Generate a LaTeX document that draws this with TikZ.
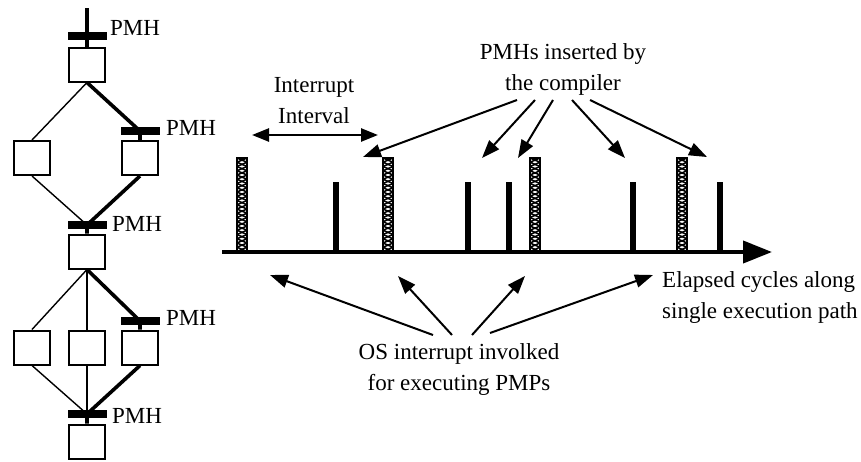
\documentclass[tikz,border=0pt]{standalone}
\usepackage{fontspec}
\setmainfont{Liberation Serif}
\usetikzlibrary{arrows.meta}
\begin{document}
\begin{tikzpicture}[x=1pt,y=-1pt,
  font=\fontsize{23}{31}\selectfont,
  box/.style={draw,line width=2pt,minimum width=36pt,minimum height=34pt,inner sep=0pt,fill=white},
  pmhbar/.style={fill=black,minimum width=39pt,minimum height=8pt,inner sep=0pt},
  lbl/.style={anchor=west,inner sep=0pt},
  txt/.style={align=center,inner sep=0pt},
  ethin/.style={line width=1.4pt},
  ethick/.style={line width=3.6pt},
  callout/.style={line width=2pt,-{Triangle[length=18pt,width=13pt]}},
  tickbar/.style={line width=5.5pt},
  hatchline/.style={line width=1.5pt}]
\useasboundingbox (0,0) rectangle (861,461);

% ---------------- left control-flow graph ----------------
\coordinate (top) at (87,8);
\node[box] (b0) at (87,64.5) {};
\node[box] (b1l) at (32,158) {};
\node[box] (b1r) at (140,158) {};
\node[box] (b2) at (87,251.5) {};
\node[box] (b3l) at (32,347.5) {};
\node[box] (b3m) at (87,347.5) {};
\node[box] (b3r) at (140,347.5) {};
\node[box] (b4) at (87,441.5) {};

\node[pmhbar] (bar0) at (87,36) {};
\node[pmhbar] (bar1) at (140,131) {};
\node[pmhbar] (bar2) at (87,225) {};
\node[pmhbar] (bar3) at (140,321) {};
\node[pmhbar] (bar4) at (87,414) {};

\draw[ethick] (top) -- (b0.north);
\draw[ethin] (b0.south) -- (b1l.north);
\draw[ethick] (b0.south) -- (bar1.center) -- (b1r.north);
\draw[ethin] (b1l.south) -- (bar2.center);
\draw[ethick] (b1r.south) -- (bar2.center) -- (b2.north);
\draw[ethin] (b2.south) -- (b3l.north);
\draw[ethin] (b2.south) -- (b3m.north);
\draw[ethick] (b2.south) -- (bar3.center) -- (b3r.north);
\draw[ethin] (b3l.south) -- (bar4.center);
\draw[ethin] (b3m.south) -- (bar4.center);
\draw[ethick] (b3r.south) -- (bar4.center) -- (b4.north);

\node[lbl] (l0) at (110,28) {PMH};
\node[lbl] (l1) at (166,128) {PMH};
\node[lbl] (l2) at (112,224) {PMH};
\node[lbl] (l3) at (166,318) {PMH};
\node[lbl] (l4) at (112,416) {PMH};

% ---------------- timeline ----------------
\coordinate (ax0) at (222,252);
\coordinate (ax1) at (772,252);
\draw[line width=4pt,-{Triangle[length=29pt,width=22pt]}] (ax0) -- (ax1);

\foreach \c in {336,468,509,633,720}{
  \draw[tickbar] (\c,182) -- (\c,252);
}

\foreach \c in {242,388,535,682}{
  \begin{scope}
    \clip (\c-5,158) rectangle (\c+5,252);
    \foreach \k in {0,...,11}{
      \draw[hatchline] (\c-5,158+8.5*\k) -- (\c+5,162.25+8.5*\k) -- (\c-5,166.5+8.5*\k);
      \draw[hatchline] (\c+5,158+8.5*\k) -- (\c-5,162.25+8.5*\k) -- (\c+5,166.5+8.5*\k);
    }
  \end{scope}
  \draw[line width=2pt] (\c-5,158) rectangle (\c+5,252);
}

% interrupt interval
\node[txt] (ii) at (314,101) {Interrupt\\Interval};
\coordinate (iiL) at (252,135);
\coordinate (iiR) at (378,135);
\draw[line width=2.5pt,{Triangle[length=17pt,width=13pt]}-{Triangle[length=17pt,width=13pt]}] (iiL) -- (iiR);

% PMHs inserted by the compiler
\node[txt] (comp) at (563,69) {PMHs inserted by\\the compiler};
\coordinate (c1) at (517,100); \coordinate (t1) at (363,157);
\coordinate (c2) at (535,100); \coordinate (t2) at (482,158);
\coordinate (c3) at (553,100); \coordinate (t3) at (518,158);
\coordinate (c4) at (572,100); \coordinate (t4) at (625,158);
\coordinate (c5) at (590,100); \coordinate (t5) at (707,157);
\draw[callout] (c1) -- (t1);
\draw[callout] (c2) -- (t2);
\draw[callout] (c3) -- (t3);
\draw[callout] (c4) -- (t4);
\draw[callout] (c5) -- (t5);

% OS interrupt
\node[txt] (os) at (459,369) {OS interrupt involked\\for executing PMPs};
\coordinate (o1) at (433,335); \coordinate (u1) at (270,275);
\coordinate (o2) at (452,335); \coordinate (u2) at (398,276);
\coordinate (o3) at (472,335); \coordinate (u3) at (525,276);
\coordinate (o4) at (490,333); \coordinate (u4) at (653,275);
\draw[callout] (o1) -- (u1);
\draw[callout] (o2) -- (u2);
\draw[callout] (o3) -- (u3);
\draw[callout] (o4) -- (u4);

% axis label
\node[txt,align=left,anchor=west] (el) at (662,297) {Elapsed cycles along\\single execution path};
\end{tikzpicture}
\end{document}
